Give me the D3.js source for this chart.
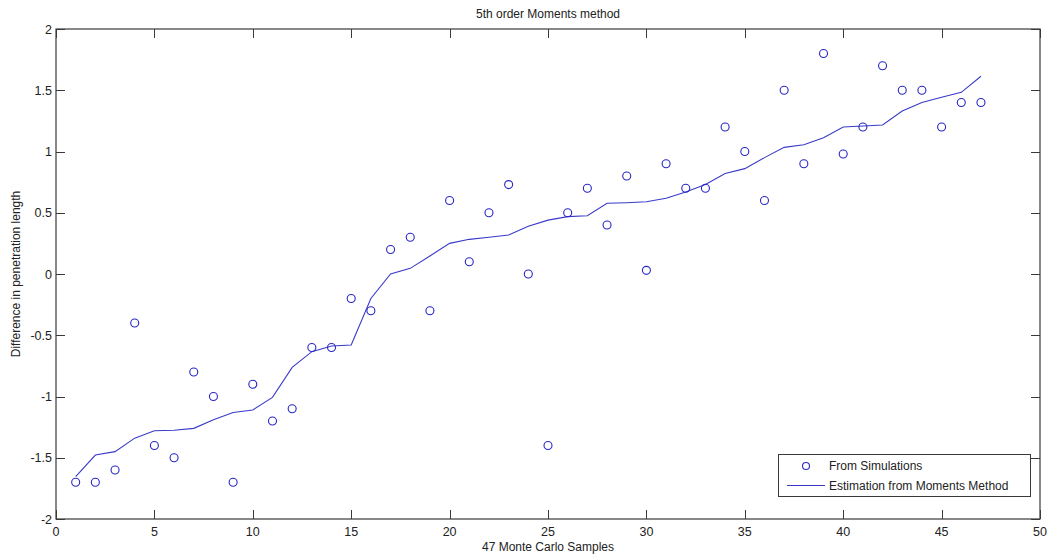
<!DOCTYPE html>
<html><head><meta charset="utf-8">
<script src="https://cdn.jsdelivr.net/npm/d3@7"></script>
<style>
html,body{margin:0;padding:0;background:#fff;}
svg text{font-family:"Liberation Sans",Arial,sans-serif;}
</style></head>
<body>
<svg id="chart" width="1057" height="557"></svg>
<script>
const samples = d3.range(1, 48);
const simValues = [-1.7,-1.7,-1.6,-0.4,-1.4,-1.5,-0.8,-1.0,-1.7,-0.9,
  -1.2,-1.1,-0.6,-0.6,-0.2,-0.3,0.2,0.3,-0.3,0.6,
  0.1,0.5,0.73,0.0,-1.4,0.5,0.7,0.4,0.8,0.03,
  0.9,0.7,0.7,1.2,1.0,0.6,1.5,0.9,1.8,0.98,
  1.2,1.7,1.5,1.5,1.2,1.4,1.4];
const estValues = [-1.655,-1.478,-1.45,-1.34,-1.28,-1.275,-1.26,-1.19,-1.13,-1.11,
  -1.007,-0.762,-0.634,-0.588,-0.58,-0.2,0.0,0.046,0.147,0.25,
  0.283,0.30,0.318,0.39,0.44,0.468,0.476,0.577,0.582,0.59,
  0.618,0.67,0.73,0.82,0.86,0.95,1.034,1.055,1.113,1.20,
  1.208,1.216,1.33,1.40,1.443,1.483,1.614];
const xTicks = [0,5,10,15,20,25,30,35,40,45,50];
const yTicks = [-2,-1.5,-1,-0.5,0,0.5,1,1.5,2];
const titleText = "5th order Moments method";
const xLabel = "47 Monte Carlo Samples";
const yLabel = "Difference in penetration length";
const legendLabels = ["From Simulations","Estimation from Moments Method"];

const svg = d3.select("#chart");
const L = 56, R = 1040, T = 29, B = 519;
const x = d3.scaleLinear().domain([0,50]).range([L,R]);
const y = d3.scaleLinear().domain([-2,2]).range([B,T]);
const axisCol = "#3a3a3a", textCol = "#222";
const markCol = "#2727c4", lineCol = "#3a3ac8";

// frame
svg.append("rect").attr("x",L).attr("y",T).attr("width",R-L).attr("height",B-T)
  .attr("fill","none").attr("stroke",axisCol).attr("stroke-width",1.2);

// ticks (inward, both sides)
const tl = 9;
xTicks.forEach(v=>{
  const px = Math.round(x(v))+0.5;
  svg.append("line").attr("x1",px).attr("x2",px).attr("y1",B).attr("y2",B-tl).attr("stroke",axisCol);
  svg.append("line").attr("x1",px).attr("x2",px).attr("y1",T).attr("y2",T+tl).attr("stroke",axisCol);
  svg.append("text").attr("x",x(v)).attr("y",B+17).attr("text-anchor","middle")
    .attr("font-size",12.5).attr("fill",textCol).text(String(v));
});
yTicks.forEach(v=>{
  const py = Math.round(y(v))+0.5;
  svg.append("line").attr("x1",L).attr("x2",L+tl).attr("y1",py).attr("y2",py).attr("stroke",axisCol);
  svg.append("line").attr("x1",R).attr("x2",R-tl).attr("y1",py).attr("y2",py).attr("stroke",axisCol);
  svg.append("text").attr("x",L-4).attr("y",y(v)+4.5).attr("text-anchor","end")
    .attr("font-size",12.5).attr("fill",textCol).text(String(v));
});

// line
const line = d3.line().x((d,i)=>x(samples[i])).y(d=>y(d));
svg.append("path").datum(estValues).attr("d",line).attr("fill","none")
  .attr("stroke",lineCol).attr("stroke-width",1.1);

// markers
svg.selectAll("circle.sim").data(simValues).enter().append("circle")
  .attr("class","sim").attr("cx",(d,i)=>x(samples[i])).attr("cy",d=>y(d)).attr("r",4)
  .attr("fill","none").attr("stroke",markCol).attr("stroke-width",1.1);

// titles
svg.append("text").attr("x",(L+R)/2).attr("y",18).attr("text-anchor","middle")
  .attr("font-size",12).attr("fill",textCol).text(titleText);
svg.append("text").attr("x",(L+R)/2).attr("y",551).attr("text-anchor","middle")
  .attr("font-size",12).attr("fill",textCol).text(xLabel);
svg.append("text").attr("transform",`translate(20,${(T+B)/2}) rotate(-90)`).attr("text-anchor","middle")
  .attr("font-size",12).attr("fill",textCol).text(yLabel);

// legend
const lg = svg.append("g");
lg.append("rect").attr("x",778.5).attr("y",454.5).attr("width",252).attr("height",42)
  .attr("fill","#fff").attr("stroke",axisCol).attr("stroke-width",1);
lg.append("circle").attr("cx",806).attr("cy",466).attr("r",3.5).attr("fill","none")
  .attr("stroke",markCol).attr("stroke-width",1.1);
lg.append("line").attr("x1",787).attr("x2",825).attr("y1",485.5).attr("y2",485.5)
  .attr("stroke",lineCol).attr("stroke-width",1.1);
lg.append("text").attr("x",829).attr("y",470).attr("font-size",12).attr("fill",textCol).text(legendLabels[0]);
lg.append("text").attr("x",829).attr("y",489.5).attr("font-size",12).attr("fill",textCol).text(legendLabels[1]);
</script>
</body></html>
